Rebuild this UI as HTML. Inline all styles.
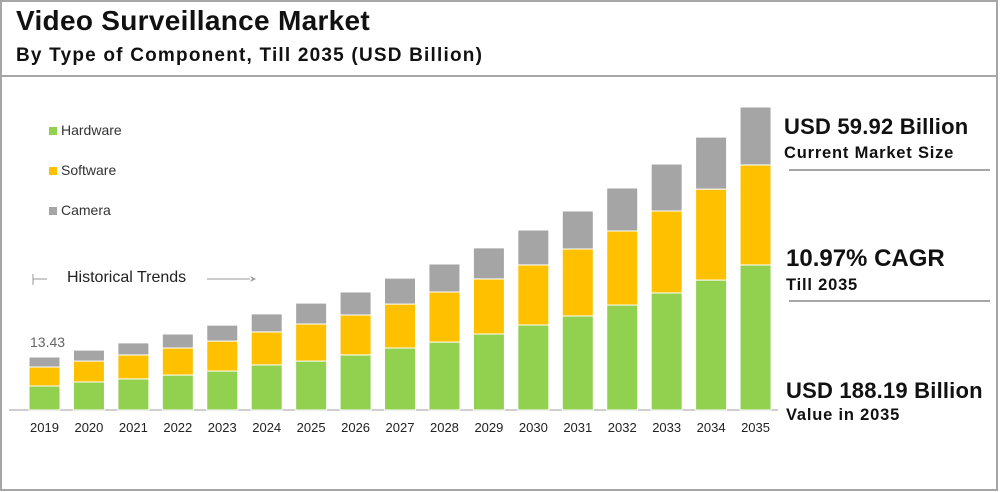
<!DOCTYPE html>
<html><head><meta charset="utf-8"><style>
body{margin:0;background:#fff;font-family:"Liberation Sans",sans-serif}
#wrap{position:relative;width:1000px;height:492px;overflow:hidden}
.t{position:absolute;white-space:nowrap;color:#111}
</style></head><body>
<div id="wrap">
<svg id="svg" width="1000" height="492" style="position:absolute;left:0;top:0">
<rect x="1" y="1" width="996" height="489" fill="none" stroke="#a6a6a6" stroke-width="2"/>
<line x1="0" y1="76" x2="998" y2="76" stroke="#a6a6a6" stroke-width="2"/>
<line x1="9" y1="410" x2="778" y2="410" stroke="#bfbfbf" stroke-width="1.5"/>
<line x1="789" y1="170" x2="990" y2="170" stroke="#a6a6a6" stroke-width="2"/>
<line x1="789" y1="301" x2="990" y2="301" stroke="#a6a6a6" stroke-width="2"/>
<line x1="33" y1="274" x2="33" y2="285" stroke="#999"/>
<line x1="33" y1="279" x2="47" y2="279" stroke="#999"/>
<line x1="207" y1="279" x2="250" y2="279" stroke="#999"/>
<polygon points="250,276 252,279 250,282 256,279" fill="#999"/>
<rect x="49" y="127" width="8" height="8" fill="#92d050"/>
<rect x="49" y="167" width="8" height="8" fill="#ffc000"/>
<rect x="49" y="207" width="8" height="8" fill="#a5a5a5"/>
<g id="bars"></g>
</svg>
<div class="t" style="left:16px;top:5px;font-size:28px;font-weight:bold;letter-spacing:0.3px">Video Surveillance Market</div>
<div class="t" style="left:16px;top:45px;font-size:19px;font-weight:bold;letter-spacing:1.2px">By Type of Component, Till 2035 (USD Billion)</div>
<div class="t" style="left:61px;top:122px;font-size:14px;color:#333">Hardware</div>
<div class="t" style="left:61px;top:162px;font-size:14px;color:#333">Software</div>
<div class="t" style="left:61px;top:202px;font-size:14px;color:#333">Camera</div>
<div class="t" style="left:67px;top:269px;font-size:16px;color:#222">Historical Trends</div>
<div class="t" style="left:30px;top:334px;font-size:14px;color:#666">13.43</div>
<div class="t" style="left:784px;top:114px;font-size:22px;font-weight:bold;letter-spacing:0.2px">USD 59.92 Billion</div>
<div class="t" style="left:784px;top:144px;font-size:16.5px;font-weight:bold;letter-spacing:0.8px">Current Market Size</div>
<div class="t" style="left:786px;top:245px;font-size:24px;font-weight:bold">10.97% CAGR</div>
<div class="t" style="left:786px;top:276px;font-size:16.5px;font-weight:bold;letter-spacing:0.8px">Till 2035</div>
<div class="t" style="left:786px;top:378px;font-size:22px;font-weight:bold;letter-spacing:0.2px">USD 188.19 Billion</div>
<div class="t" style="left:786px;top:406px;font-size:16.5px;font-weight:bold;letter-spacing:0.8px">Value in 2035</div>
</div>
<script>
const years=["2019","2020","2021","2022","2023","2024","2025","2026","2027","2028","2029","2030","2031","2032","2033","2034","2035"];
const hardware=[14.9,17.4,19.3,21.7,24.2,28.0,30.4,34.2,38.5,42.2,47.2,52.8,58.4,65.2,72.7,80.7,90.1];
const software=[11.8,13.0,14.9,16.8,18.6,20.5,23.0,24.8,27.3,31.1,34.2,37.3,41.6,46.0,50.9,56.5,62.1];
const camera=[6.2,6.8,7.5,8.7,9.9,11.2,13.0,14.3,16.1,17.4,19.3,21.7,23.6,26.7,29.2,32.3,36.0];
const base=410,scale=1.61,x0=44.5,step=44.44,bw=31;
const xS=i=>x0+i*step, yS=v=>v*scale;
const g=document.getElementById('bars'),NS="http://www.w3.org/2000/svg";
const series=[[hardware,"#92d050","hardware"],[software,"#ffc000","software"],[camera,"#a5a5a5","camera"]];
years.forEach((yr,i)=>{
 let acc=0;
 series.forEach(([arr,col,nm])=>{
  const h=yS(arr[i]);const r=document.createElementNS(NS,'rect');
  r.setAttribute('x',xS(i)-bw/2);r.setAttribute('y',base-yS(acc)-h);
  r.setAttribute('width',bw);r.setAttribute('height',h);r.setAttribute('fill',col);
  r.setAttribute('stroke','#fff');r.setAttribute('stroke-width','1');
  
  
  g.appendChild(r);acc+=arr[i];
 });
 const t=document.createElementNS(NS,'text');
 t.setAttribute('x',xS(i));t.setAttribute('y',432);t.setAttribute('text-anchor','middle');
 t.setAttribute('font-size','13');t.setAttribute('fill','#222');t.setAttribute('font-family','Liberation Sans, sans-serif');
 t.textContent=yr;
 
 
 g.appendChild(t);
});
</script>
</body></html>
